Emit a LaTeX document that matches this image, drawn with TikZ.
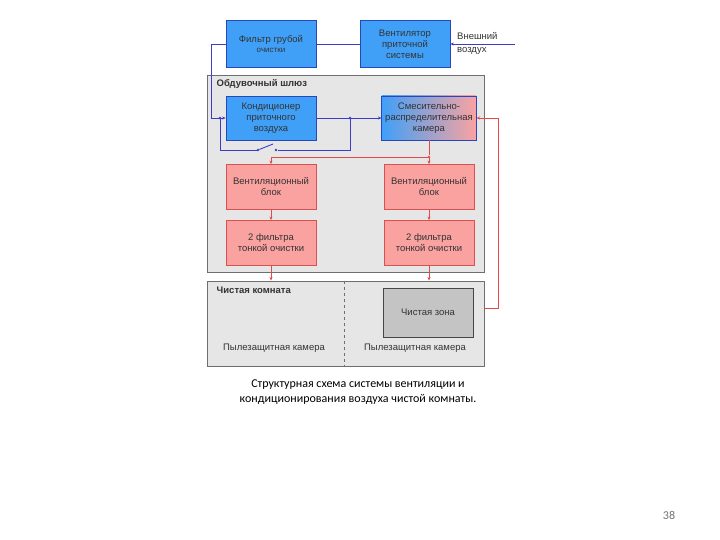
\documentclass[tikz,border=0pt]{standalone}
\usepackage{fontspec}
\setmainfont{Liberation Sans}
\newfontfamily\capfont{Carlito}
\usetikzlibrary{positioning,arrows.meta}

\definecolor{boxblue}{RGB}{64,160,248}
\definecolor{boxblueline}{RGB}{40,70,190}
\definecolor{boxpink}{RGB}{250,162,160}
\definecolor{boxpinkline}{RGB}{222,80,80}
\definecolor{lineblue}{RGB}{60,60,200}
\definecolor{linered}{RGB}{228,72,72}
\definecolor{panelgrey}{RGB}{230,230,230}
\definecolor{panelline}{RGB}{110,110,110}
\definecolor{zonegrey}{RGB}{196,196,196}
\definecolor{zoneline}{RGB}{70,70,70}

\begin{document}
\begin{tikzpicture}[x=1pt, y=-1pt, on grid, >={Stealth[length=3.5pt,width=3pt]},
                    font=\fontsize{9.5}{11}\selectfont, text=black!80]
    \tikzstyle{bluebox} = [rectangle, minimum width=90pt, minimum height=47pt,
                           draw=boxblueline, fill=boxblue, line width=0.8pt, align=center]
    \tikzstyle{pinkbox} = [rectangle, minimum width=90pt, minimum height=45pt,
                           draw=boxpinkline, fill=boxpink, line width=0.8pt, align=center]
    \tikzstyle{panel} = [rectangle, minimum width=277pt, draw=panelline,
                         fill=panelgrey, line width=1pt]
    \tikzstyle{blueline} = [draw=lineblue, line width=0.9pt]
    \tikzstyle{redline} = [draw=linered, line width=0.9pt]
    \tikzstyle{joint} = [circle, inner sep=0pt, minimum size=2.6pt]

    \fill[white] (0,0) rectangle (720,540);
    \useasboundingbox (0,0) rectangle (720,540);

    % panels
    \node (lock) [panel, minimum height=196pt] at (345.5,174) {};
    \node (room) [panel, minimum height=85pt] at (345.5,323.5) {};
    \node[anchor=north west, inner sep=0pt, font=\bfseries\fontsize{9.5}{11}\selectfont]
      at ([xshift=10pt,yshift=-4pt] lock.north west) {Обдувочный шлюз};
    \node[anchor=north west, inner sep=0pt, font=\bfseries\fontsize{9.5}{11}\selectfont]
      at ([xshift=10pt,yshift=-6pt] room.north west) {Чистая комната};
    \draw[panelline, dashed, line width=0.8pt] ([xshift=-1.5pt] room.north) -- ([xshift=-1.5pt] room.south);

    % boxes
    \node (filt)  [bluebox] at (271,44) {Фильтр грубой\\[-1pt]{\fontsize{8}{9}\selectfont очистки}};
    \node (fan)   [bluebox] at (405,44) {Вентилятор\\приточной\\системы};
    \node (cond)  [bluebox, minimum height=44pt, below=74pt of filt] {Кондиционер\\приточного\\воздуха};
    \node (mix)   [bluebox, minimum width=94pt, minimum height=44pt, left color=boxblue,
                   right color=boxpink] at (429,118) {Смесительно-\\распределительная\\камера};
    \node (vent1) [pinkbox, below=69pt of cond] {Вентиляционный\\блок};
    \node (vent2) [pinkbox, below=69pt of mix] {Вентиляционный\\блок};
    \node (filt1) [pinkbox, below=56pt of vent1] {2 фильтра\\тонкой очистки};
    \node (filt2) [pinkbox, below=56pt of vent2] {2 фильтра\\тонкой очистки};
    \node (zone)  [rectangle, minimum width=90pt, minimum height=49pt, draw=zoneline,
                   fill=zonegrey, line width=0.8pt] at (428,312.5) {Чистая зона};
    \node (dust1) at (274,348) {Пылезащитная камера};
    \node (dust2) at (415,348) {Пылезащитная камера};
    \node (air)   [anchor=west, align=left, inner sep=0pt, font=\fontsize{9.5}{13}\selectfont]
      at (457,43.5) {Внешний\\воздух};

    % supply air
    \coordinate (outside) at (515,44);
    \draw [blueline, ->] (outside) -- (fan.east);
    \draw [blueline] (fan.west) -- (filt.west -| filt.east);
    \draw [blueline, ->] (filt.west) -- ++(-14,0) |- (cond.west);
    \draw [blueline, ->] (cond.east) -- (mix.west);

    % bypass with switch
    \node (tap)   [joint, fill=lineblue] at (350,118) {};
    \node (merge) [joint, fill=lineblue] at (220,118) {};
    \node (sw2)   [joint, fill=lineblue] at (276,150) {};
    \node (sw1)   [joint, fill=lineblue] at (258,150) {};
    \draw [blueline] (tap) |- (sw2);
    \draw [blueline] (sw1) -- ++(15,-6);
    \draw [blueline] (sw1) -| (merge);

    % distribution
    \node (split) [joint, fill=linered] at (429,157) {};
    \draw [redline] (mix.south) -- (split);
    \draw [redline, ->] (split) -- (vent2.north);
    \draw [redline, ->] (split) -| (vent1.north);
    \draw [redline, ->] (vent1) -- (filt1);
    \draw [redline, ->] (vent2) -- (filt2);
    \draw [redline, ->] (filt1.south) -- (filt1.south |- room.north);
    \draw [redline, ->] (filt2.south) -- (filt2.south |- room.north);

    % return air
    \coordinate (ret) at (room.east |- 0,308);
    \draw [redline, ->] (ret) -- ++(14,0) |- (mix.east);

    \node (caption) [font=\capfont\fontsize{12}{15.5}\selectfont, align=center, text=black]
      at (358,392) {Структурная схема системы вентиляции и\\кондиционирования воздуха чистой комнаты.};
    \node (page) [font=\capfont\fontsize{12}{13}\selectfont, text=black!55] at (669,515) {38};
\end{tikzpicture}
\end{document}
